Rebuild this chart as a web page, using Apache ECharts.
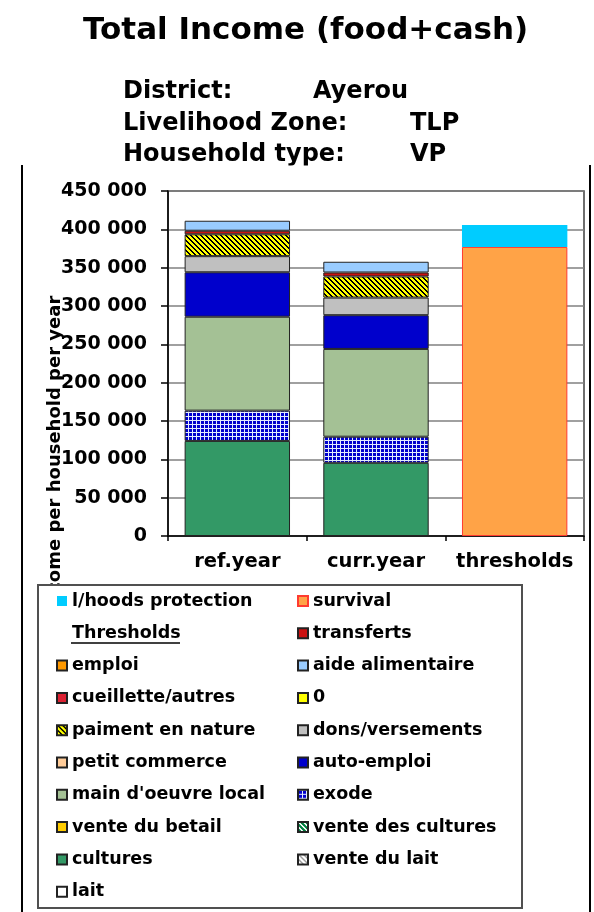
<!DOCTYPE html>
<html>
<head>
<meta charset="utf-8">
<script src="https://cdn.jsdelivr.net/npm/echarts@6/dist/echarts.min.js"></script>
<style>
html,body{margin:0;padding:0;background:#fff;}
#chart{width:594px;height:912px;}
</style>
</head>
<body>
<div id="chart"></div>
<script>
// ---- data ----
const categories = ['ref.year', 'curr.year', 'thresholds'];
const cultures    = [124000, 95500, null];
const exode       = [39500, 34000, null];
const mainOeuvre  = [122500, 114500, null];
const autoEmploi  = [58000, 44000, null];
const dons        = [21000, 23000, null];
const paiment     = [28500, 27500, null];
const transferts  = [4700, 5200, null];
const aide        = [13000, 14000, null];
const survival    = [null, null, 377000];
const protection  = [null, null, 28500];
const emptyVals   = [null, null, null];

const legendLeft  = ['l/hoods protection', 'Thresholds', 'emploi', 'cueillette/autres', 'paiment en nature',
                     'petit commerce', "main d'oeuvre local", 'vente du betail', 'cultures', 'lait'];
const legendRight = ['survival', 'transferts', 'aide alimentaire', '0', 'dons/versements',
                     'auto-emploi', 'exode', 'vente des cultures', 'vente du lait'];

const FONT = 'DejaVu Sans';

// ---- patterns ----
function makePattern(size, bg, fg, draw) {
  const c = document.createElement('canvas');
  c.width = size; c.height = size;
  const ctx = c.getContext('2d');
  ctx.fillStyle = bg; ctx.fillRect(0, 0, size, size);
  ctx.fillStyle = fg;
  draw(ctx, size);
  return { image: c, repeat: 'repeat' };
}
const gridPat = makePattern(4, '#0000CC', '#E4ECFF', (ctx, s) => {
  ctx.fillRect(0, 0, s, 1); ctx.fillRect(0, 0, 1, s);
});
function diag(ctx, s) {
  for (let i = 0; i < s; i++) { ctx.fillRect(i, i, 1, 1); ctx.fillRect((i + 1) % s, i, 1, 1); }
}
const hatchYellow = makePattern(5, '#FFFF00', '#000000', diag);
const hatchGreen  = makePattern(5, '#008040', '#FFFFFF', diag);
const hatchGray   = makePattern(5, '#FFFFFF', '#999999', diag);

const BORDER = '#222';
function barSeries(name, data, color, border, bw) {
  return {
    name: name, type: 'bar', stack: 'total', data: data,
    barWidth: '76%',
    itemStyle: { color: color, borderColor: border === undefined ? BORDER : border, borderWidth: bw === undefined ? 1 : bw },
    emphasis: { disabled: true }
  };
}

const series = [
  barSeries('cultures', cultures, '#339966'),
  barSeries('lait', emptyVals, '#FFFFFF'),
  barSeries('vente du lait', emptyVals, hatchGray),
  barSeries('vente des cultures', emptyVals, hatchGreen),
  barSeries('vente du betail', emptyVals, '#FFCC00'),
  barSeries('exode', exode, gridPat),
  barSeries("main d'oeuvre local", mainOeuvre, '#A4C195'),
  barSeries('petit commerce', emptyVals, '#FFCC99'),
  barSeries('auto-emploi', autoEmploi, '#0000CC'),
  barSeries('dons/versements', dons, '#C0C0C0'),
  barSeries('paiment en nature', paiment, hatchYellow),
  barSeries('0', emptyVals, '#FFFF00'),
  barSeries('cueillette/autres', emptyVals, '#DD2233'),
  barSeries('transferts', transferts, '#CC1111'),
  barSeries('aide alimentaire', aide, '#99CCFF'),
  barSeries('emploi', emptyVals, '#FF9900'),
  barSeries('survival', survival, '#FFA347', '#FF3B30', 1),
  barSeries('l/hoods protection', protection, '#00CCFF', '#00CCFF', 0),
  barSeries('Thresholds', emptyVals, 'rgba(0,0,0,0)', 'rgba(0,0,0,0)', 0)
];

function legendCfg(names, left) {
  return {
    orient: 'vertical', left: left, top: 591, padding: 0,
    itemWidth: 10, itemHeight: 10, itemGap: 12.3,
    selectedMode: false, z: 10,
    textStyle: { fontFamily: FONT, fontWeight: 'bold', fontSize: 17.5, color: '#000', lineHeight: 20 },
    data: names.map(n => n === 'Thresholds' ? { name: n, icon: 'none' } : { name: n, icon: 'rect' })
  };
}

const fmt = v => String(v).replace(/\B(?=(\d{3})+(?!\d))/g, ' ');

const option = {
  animation: false,
  backgroundColor: '#fff',
  title: {
    text: 'Total Income (food+cash)', left: 83, top: 15, padding: 0,
    textStyle: { fontFamily: FONT, fontWeight: 'bold', fontSize: 31, lineHeight: 31, color: '#000' }
  },
  grid: {
    left: 168, right: 10, top: 191, bottom: 376,
    show: true, borderColor: '#404040', borderWidth: 1.5, backgroundColor: 'transparent'
  },
  xAxis: {
    type: 'category', data: categories,
    axisLine: { lineStyle: { color: '#000', width: 1.5 } },
    axisTick: { show: true, length: 5, lineStyle: { color: '#000', width: 1.5 } },
    axisLabel: { interval: 0, hideOverlap: false, margin: 16, fontFamily: FONT, fontWeight: 'bold', fontSize: 19.5, color: '#000' }
  },
  yAxis: {
    type: 'value', min: 0, max: 450000, interval: 50000,
    axisLine: { show: true, lineStyle: { color: '#000', width: 1.5 } },
    axisTick: { show: true, length: 7, lineStyle: { color: '#000', width: 1.5 } },
    axisLabel: { margin: 21, fontFamily: FONT, fontWeight: 'bold', fontSize: 19, color: '#000', formatter: fmt },
    splitLine: { show: true, lineStyle: { color: '#808080', width: 1.5 } }
  },
  legend: [legendCfg(legendLeft, 56), legendCfg(legendRight, 297)],
  series: series,
  graphic: [
    { type: 'text', z: 0, x: 55, y: 454, rotation: Math.PI / 2,
      style: { text: 'Income per household per year', fontFamily: FONT, fontWeight: 'bold', fontSize: 18,
               fill: '#000', textAlign: 'center', textVerticalAlign: 'middle' } },
    { type: 'text', z: 0, x: 123, y: 91.5, style: { text: 'District:', fontFamily: FONT, fontWeight: 'bold', fontSize: 24, fill: '#000', textVerticalAlign: 'middle' } },
    { type: 'text', z: 0, x: 313, y: 91.5, style: { text: 'Ayerou', fontFamily: FONT, fontWeight: 'bold', fontSize: 24, fill: '#000', textVerticalAlign: 'middle' } },
    { type: 'text', z: 0, x: 123, y: 123.5, style: { text: 'Livelihood Zone:', fontFamily: FONT, fontWeight: 'bold', fontSize: 24, fill: '#000', textVerticalAlign: 'middle' } },
    { type: 'text', z: 0, x: 410, y: 123.5, style: { text: 'TLP', fontFamily: FONT, fontWeight: 'bold', fontSize: 24, fill: '#000', textVerticalAlign: 'middle' } },
    { type: 'text', z: 0, x: 123, y: 155, style: { text: 'Household type:', fontFamily: FONT, fontWeight: 'bold', fontSize: 24, fill: '#000', textVerticalAlign: 'middle' } },
    { type: 'text', z: 0, x: 410, y: 155, style: { text: 'VP', fontFamily: FONT, fontWeight: 'bold', fontSize: 24, fill: '#000', textVerticalAlign: 'middle' } },
    // white chart-object area clipping the descenders of the last header line
    { type: 'rect', z: 1, shape: { x: 100, y: 165.5, width: 400, height: 16 }, style: { fill: '#fff' } },
    // legend box
    { type: 'rect', z: 1, shape: { x: 38, y: 585, width: 484, height: 323 },
      style: { fill: '#fff', stroke: '#505050', lineWidth: 2 } },
    // underline for "Thresholds"
    { type: 'line', z: 11, shape: { x1: 71, y1: 643, x2: 180, y2: 643 }, style: { stroke: '#000', lineWidth: 1.5 } },
    // outer frame side lines
    { type: 'line', z: 1, shape: { x1: 22, y1: 165, x2: 22, y2: 912 }, style: { stroke: '#000', lineWidth: 2 } },
    { type: 'line', z: 1, shape: { x1: 590, y1: 165, x2: 590, y2: 912 }, style: { stroke: '#000', lineWidth: 2 } }
  ]
};

const chart = echarts.init(document.getElementById('chart'), null, { renderer: 'canvas' });
chart.setOption(option);
</script>
</body>
</html>
